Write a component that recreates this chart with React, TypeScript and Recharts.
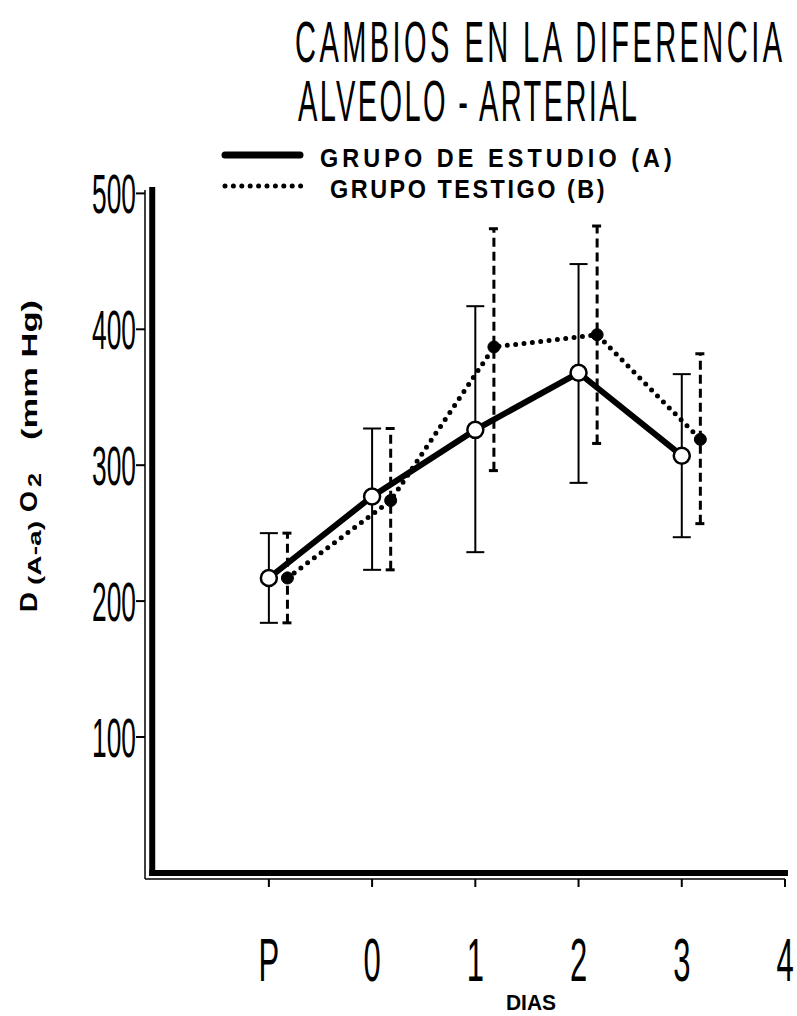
import React from "react";
import { LineChart, Line, XAxis, YAxis, ErrorBar, ReferenceLine, Legend } from "recharts";

// days along the x axis (P = preoperatorio)
const dayLabels = ["P", "0", "1", "2", "3", "4"];
const dayTicks = [0, 1, 2, 3, 4, 5];
const yTicks = [100, 200, 300, 400, 500];

// grupo de estudio (A)
const meanA = [217, 277, 326, 368, 307];
const lowA = [184, 223, 236, 287, 247];
const highA = [250, 327, 417, 448, 367];

// grupo testigo (B)
const meanB = [217, 274, 387, 396, 319];
const lowB = [184, 223, 296, 316, 257];
const highB = [250, 327, 474, 476, 382];

const offsetB = 0.18;
const frameX = -1.13;

const dataA = meanA.map((y, i) => ({ x: i, y, err: [y - lowA[i], highA[i] - y] }));
const dataB = meanB.map((y, i) => ({ x: i + offsetB, y, err: [y - lowB[i], highB[i] - y] }));

const sans = "'Liberation Sans', Arial, sans-serif";

const OpenDot = (props: any) => {
  const { cx, cy, index } = props;
  if (cx == null || cy == null) return null;
  return <circle key={"a" + index} cx={cx} cy={cy} r={8} fill="#fff" stroke="#000" strokeWidth={2.5} />;
};

const FilledDot = (props: any) => {
  const { cx, cy, index } = props;
  if (cx == null || cy == null) return null;
  return <circle key={"b" + index} cx={cx} cy={cy} r={6} fill="#000" stroke="#000" strokeWidth={1} />;
};

const YTick = (props: any) => {
  const { x, y, payload } = props;
  return (
    <g transform={`translate(${x},${y}) scale(0.47,1)`}>
      <text textAnchor="end" dy={20} fontSize={56} fontFamily={sans} fill="#000">
        {payload.value}
      </text>
    </g>
  );
};

const XTick = (props: any) => {
  const { x, y, payload } = props;
  return (
    <g transform={`translate(${x},${y + 92}) scale(0.5,1)`}>
      <text textAnchor="middle" fontSize={62} fontFamily={sans} fill="#000">
        {dayLabels[payload.value]}
      </text>
    </g>
  );
};

const LegendBox = () => (
  <svg width={797} height={215}>
    <line x1={225} y1={155} x2={300} y2={155} stroke="#000" strokeWidth={7} strokeLinecap="round" />
    <g transform="translate(320,167) scale(0.9,1)">
      <text x={0} y={0} textLength={391} lengthAdjust="spacing" fontSize={26} fontWeight={700} fontFamily={sans}>
        GRUPO DE ESTUDIO (A)
      </text>
    </g>
    <line x1={225} y1={186} x2={301} y2={186} stroke="#000" strokeWidth={5} strokeDasharray="0 8.4" strokeLinecap="round" />
    <g transform="translate(330,198) scale(0.9,1)">
      <text x={0} y={0} textLength={305} lengthAdjust="spacing" fontSize={26} fontWeight={700} fontFamily={sans}>
        GRUPO TESTIGO (B)
      </text>
    </g>
  </svg>
);

export default function App() {
  return (
    <div style={{ position: "absolute", left: 0, top: 0, width: 797, height: 1016, background: "#fff" }}>
      <LineChart width={797} height={1016} margin={{ top: 190, right: 12, bottom: 0, left: 0 }}>
        <XAxis
          type="number"
          dataKey="x"
          domain={[-1.2, 5]}
          allowDataOverflow
          ticks={dayTicks}
          height={137}
          tickSize={8}
          tickMargin={2}
          axisLine={{ stroke: "#000", strokeWidth: 1.5 }}
          tickLine={{ stroke: "#000", strokeWidth: 2 }}
          tick={<XTick />}
        />
        <YAxis
          type="number"
          domain={[-4.5, 502.5]}
          allowDataOverflow
          ticks={yTicks}
          width={145}
          tickSize={9}
          tickMargin={0}
          axisLine={{ stroke: "#000", strokeWidth: 1.5 }}
          tickLine={{ stroke: "#000", strokeWidth: 2 }}
          tick={<YTick />}
        />
        <ReferenceLine
          segment={[{ x: frameX, y: 0 }, { x: frameX, y: 502.5 }]}
          stroke="#000"
          strokeWidth={6}
          strokeLinecap="square"
          ifOverflow="visible"
        />
        <ReferenceLine
          segment={[{ x: frameX, y: 0 }, { x: 5, y: 0 }]}
          stroke="#000"
          strokeWidth={6}
          strokeLinecap="square"
          ifOverflow="visible"
        />
        <Line
          data={dataB}
          dataKey="y"
          type="linear"
          stroke="#000"
          strokeWidth={5}
          strokeDasharray="0 8.4"
          strokeLinecap="round"
          dot={FilledDot}
          activeDot={false}
          isAnimationActive={false}
        >
          <ErrorBar dataKey="err" direction="y" width={5} stroke="#000" strokeWidth={3} strokeDasharray="9 5" isAnimationActive={false} />
        </Line>
        <Line
          data={dataA}
          dataKey="y"
          type="linear"
          stroke="#000"
          strokeWidth={6}
          dot={OpenDot}
          activeDot={false}
          isAnimationActive={false}
        >
          <ErrorBar dataKey="err" direction="y" width={9} stroke="#000" strokeWidth={2} isAnimationActive={false} />
        </Line>
        <Legend
          layout="vertical"
          verticalAlign="middle"
          align="center"
          content={<LegendBox />}
          wrapperStyle={{ position: "absolute", top: 0, left: 0, width: 797, height: 215 }}
        />
      </LineChart>
      <svg
        width={797}
        height={1016}
        style={{ position: "absolute", left: 0, top: 0, pointerEvents: "none" }}
      >
        <g transform="translate(295,62) scale(0.5,1)">
          <text x={0} y={0} textLength={974} lengthAdjust="spacing" fontSize={58} fontFamily={sans}>
            CAMBIOS EN LA DIFERENCIA
          </text>
        </g>
        <g transform="translate(298,121) scale(0.5,1)">
          <text x={0} y={0} textLength={678} lengthAdjust="spacing" fontSize={58} fontFamily={sans}>
            ALVEOLO - ARTERIAL
          </text>
        </g>
        <text x={506} y={1010} textLength={50} lengthAdjust="spacingAndGlyphs" fontSize={22} fontWeight={700} fontFamily={sans}>
          DIAS
        </text>
        <text transform="rotate(-90)" fontFamily={sans} fontWeight={700} fill="#000">
          <tspan x={-612} y={37} fontSize={24} textLength={20} lengthAdjust="spacingAndGlyphs">D</tspan>
          <tspan x={-585} y={41} fontSize={18} textLength={64} lengthAdjust="spacingAndGlyphs">(A-a)</tspan>
          <tspan x={-512} y={37} fontSize={24} textLength={21} lengthAdjust="spacingAndGlyphs">O</tspan>
          <tspan x={-487} y={41} fontSize={18} textLength={14} lengthAdjust="spacingAndGlyphs">2</tspan>
          <tspan x={-440} y={37} fontSize={22} textLength={140} lengthAdjust="spacingAndGlyphs">(mm Hg)</tspan>
        </text>
      </svg>
    </div>
  );
}
